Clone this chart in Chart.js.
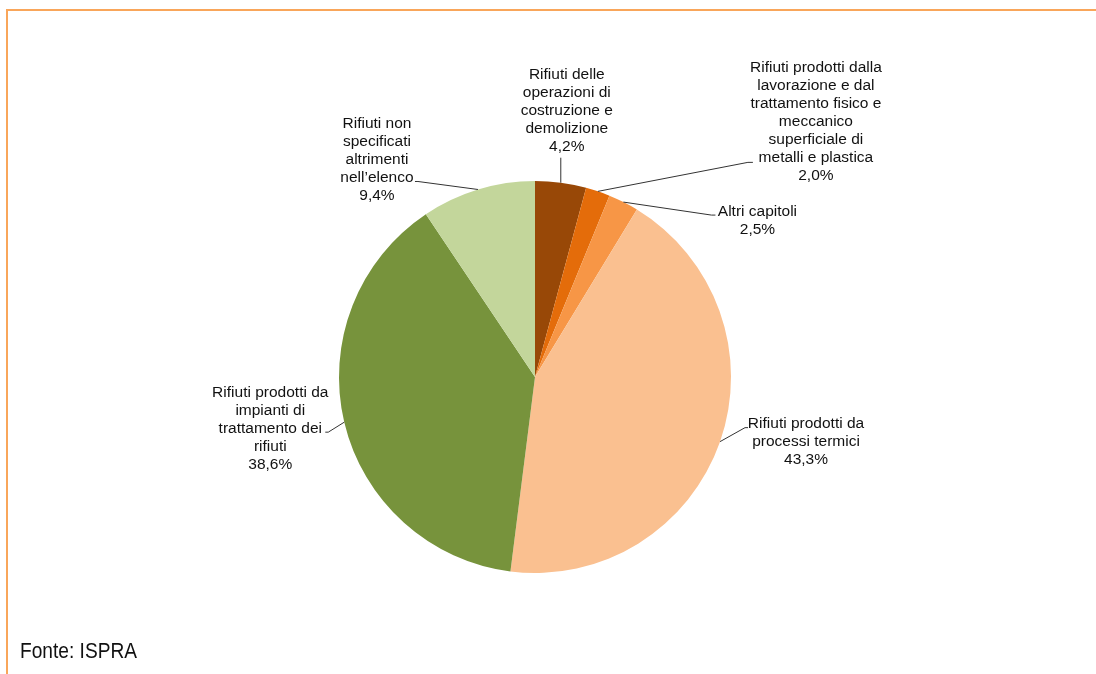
<!DOCTYPE html>
<html>
<head>
<meta charset="utf-8">
<script src="https://cdn.jsdelivr.net/npm/chart.js@4"></script>
<style>
    body { margin: 0; background: #fff; }
    #wrap { position: relative; width: 1096px; height: 674px; overflow: hidden; }
    #cornice { position: absolute; left: 6px; top: 9px; width: 1100px; height: 700px;
        border-top: 2px solid #F9A65A; border-left: 2px solid #F9A65A; }
    #fonte { position: absolute; left: 20px; top: 638px; font-family: "Liberation Sans", Arial, sans-serif;
        font-size: 22px; color: #111; transform: scaleX(0.87); transform-origin: left top; }
    canvas { position: absolute; left: 0; top: 0; }
</style>
</head>
<body>
<div id="wrap">
    <div id="cornice"></div>
    <canvas id="myPieChart" width="1096" height="674"></canvas>
    <div id="fonte">Fonte: ISPRA</div>
</div>
<script>
const categorie = [
    ['Rifiuti delle', 'operazioni di', 'costruzione e', 'demolizione'],
    ['Rifiuti prodotti dalla', 'lavorazione e dal', 'trattamento fisico e', 'meccanico', 'superficiale di', 'metalli e plastica'],
    ['Altri capitoli'],
    ['Rifiuti prodotti da', 'processi termici'],
    ['Rifiuti prodotti da', 'impianti di', 'trattamento dei', 'rifiuti'],
    ['Rifiuti non', 'specificati', 'altrimenti', 'nell\u2019elenco']
];
const percentuali = [4.2, 2.0, 2.5, 43.3, 38.6, 9.4];
const colori = ['#984807', '#E46C0A', '#F79646', '#FAC090', '#77933C', '#C3D69B'];

// posizione etichette: spostamento dal punto medio dell'arco
const leaderPunti = [
    [[0, -25]],
    [[150, -29], [155, -29]],
    [[88, 13], [92, 13]],
    [[25, -14], [28, -14]],
    [[-16, 10], [-19, 10]],
    [[-60, -8], [-63, -8]]
];
const testoOffset = [[6, -72], [218, -70], [134, 19], [86, 0], [-74, 7], [-101, -30]];

const etichette = {
    id: 'etichette',
    afterDraw: function (chart) {
        var ctx = chart.ctx;
        var meta = chart.getDatasetMeta(0);
        ctx.save();
        meta.data.forEach(function (arc, i) {
            var p = arc.getProps(['x', 'y', 'startAngle', 'endAngle', 'outerRadius'], true);
            var mid = (p.startAngle + p.endAngle) / 2;
            var ax = p.x + Math.cos(mid) * p.outerRadius;
            var ay = p.y + Math.sin(mid) * p.outerRadius;

            ctx.strokeStyle = '#333';
            ctx.lineWidth = 1;
            ctx.beginPath();
            ctx.moveTo(ax, ay);
            leaderPunti[i].forEach(function (pt) {
                ctx.lineTo(ax + pt[0], ay + pt[1]);
            });
            ctx.stroke();

            var righe = categorie[i].concat([percentuali[i].toFixed(1).replace('.', ',') + '%']);
            var cx = ax + testoOffset[i][0];
            var cy = ay + testoOffset[i][1];
            ctx.fillStyle = '#111';
            ctx.font = '15.5px "Liberation Sans", Arial, sans-serif';
            ctx.textAlign = 'center';
            ctx.textBaseline = 'middle';
            righe.forEach(function (r, k) {
                ctx.fillText(r, cx, cy + (k - (righe.length - 1) / 2) * 18);
            });
        });
        ctx.restore();
    }
};

var ctx = document.getElementById('myPieChart');

new Chart(ctx, {
    type: 'pie',
    data: {
        labels: categorie.map(function (c) { return c.join(' '); }),
        datasets: [{
            data: percentuali,
            backgroundColor: colori,
            borderWidth: 0
        }]
    },
    options: {
        responsive: false,
        animation: false,
        layout: {
            padding: { left: 300, right: 326, top: 181, bottom: 101 }
        },
        plugins: {
            legend: { display: false },
            tooltip: { enabled: false }
        }
    },
    plugins: [etichette]
});
</script>
</body>
</html>
